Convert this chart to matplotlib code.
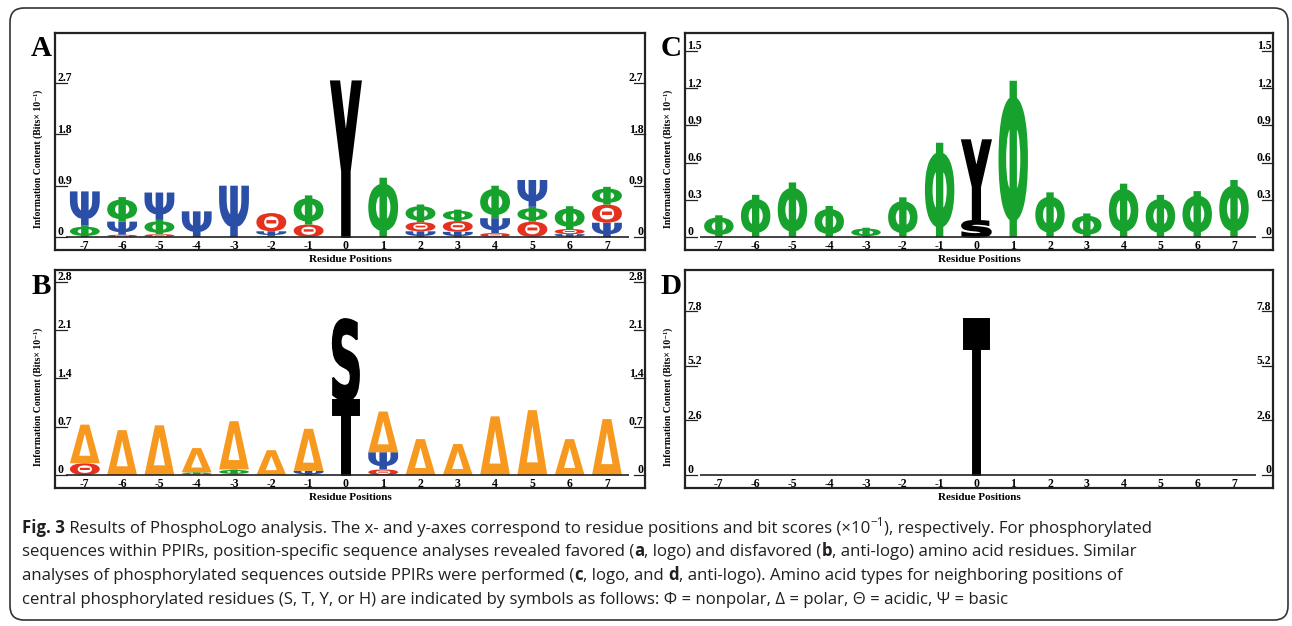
import matplotlib
matplotlib.use('Agg')
import matplotlib.pyplot as plt
from matplotlib.textpath import TextPath
from matplotlib.font_manager import FontProperties
from matplotlib.patches import PathPatch, FancyBboxPatch
from matplotlib.transforms import Affine2D, IdentityTransform

W, H = 1292, 626

positions = list(range(-7, 8))

# stacks are listed bottom -> top, one string of symbols per position
a_syms = ['ΦΨ', 'ΘΨΦ', 'ΘΦΨ', 'Ψ', 'Ψ', 'ΦΨΘ', 'ΘΦ', 'Y', 'Φ',
          'ΨΘΦ', 'ΨΘΦ', 'ΘΨΦ', 'ΘΦΨ', 'ΨΘΦ', 'ΨΘΦ']
a_vals = [[0.20, 0.60], [0.04, 0.23, 0.43], [0.05, 0.25, 0.48], [0.45], [0.90],
          [0.02, 0.08, 0.32], [0.22, 0.51], [2.73], [1.04],
          [0.10, 0.16, 0.31], [0.09, 0.19, 0.20], [0.07, 0.26, 0.57],
          [0.27, 0.26, 0.47], [0.05, 0.09, 0.40], [0.25, 0.32, 0.31]]

b_syms = ['ΘΔ', 'Δ', 'Δ', 'ΘΦΔ', 'ΘΦΔ', 'Δ', 'ΨΔ', 'TS', 'ΘΨΔ',
          'Δ', 'Δ', 'Δ', 'Δ', 'Δ', 'Δ']
b_vals = [[0.17, 0.56], [0.65], [0.72], [0.01, 0.03, 0.35], [0.01, 0.07, 0.70],
          [0.36], [0.06, 0.61], [1.08, 1.18], [0.08, 0.25, 0.59],
          [0.52], [0.45], [0.85], [0.94], [0.52], [0.81]]

c_syms = ['Φ'] * 7 + ['SY'] + ['Φ'] * 7
c_vals = [[0.175], [0.34], [0.44], [0.25], [0.075], [0.32], [0.76], [0.13, 0.65],
          [1.26], [0.36], [0.19], [0.43], [0.34], [0.37], [0.46]]

d_syms = [''] * 7 + ['T'] + [''] * 7
d_vals = [[]] * 7 + [[7.45]] + [[]] * 7

a_ticks = [0, 0.9, 1.8, 2.7]
b_ticks = [0, 0.7, 1.4, 2.1, 2.8]
c_ticks = [0, 0.3, 0.6, 0.9, 1.2, 1.5]
d_ticks = [0, 2.6, 5.2, 7.8]

colors = {'Φ': '#17a12d', 'Ψ': '#2b4fa6', 'Θ': '#e4321f', 'Δ': '#f7991f',
          'Y': 'black', 'S': 'black', 'T': 'black'}

glyph_fp = FontProperties(family='DejaVu Sans', weight='bold')
serif = ['Liberation Serif', 'DejaVu Serif']


def glyph(ax, ch, x, y0, h, w):
    tp = TextPath((0, 0), ch, size=1, prop=glyph_fp)
    bb = tp.get_extents()
    tr = Affine2D().translate(-bb.x0, -bb.y0).scale(w / bb.width, h / bb.height).translate(x - w / 2, y0)
    # the black central residues are drawn a bit heavier
    edge = 1.4 if ch in 'YST' else 0
    ax.add_patch(PathPatch(tr.transform_path(tp), fc=colors[ch], ec=colors[ch], lw=edge))


fig = plt.figure(figsize=(W / 100, H / 100), dpi=100)

# outer rounded border
fig.patches.append(FancyBboxPatch((10, 6), 1278, 612, boxstyle='round,pad=0,rounding_size=14',
                                  transform=IdentityTransform(), fill=False, ec='#333333', lw=1.2))

# name, frame (left, top, right, bottom) in px, baseline px, px per unit, xlim, ticks, letter width at 0
panels = [
    ('A', (55, 33, 645, 250), 237, 57.0, (-7.80, 8.02), a_syms, a_vals, a_ticks, 0.8),
    ('B', (55, 270, 645, 488), 475, 69.0, (-7.80, 8.02), b_syms, b_vals, b_ticks, 0.70),
    ('C', (685, 33, 1273, 250), 237, 124.0, (-7.92, 8.06), c_syms, c_vals, c_ticks, 0.78),
    ('D', (685, 270, 1273, 488), 475, 21.0, (-7.92, 8.06), d_syms, d_vals, d_ticks, 0.68),
]

for name, (l, t, r, b), base, ppu, xlim, syms, vals, ticks, w0 in panels:
    ax = fig.add_axes([l / W, 1 - b / H, (r - l) / W, (b - t) / H])
    ax.set_xlim(*xlim)
    ax.set_ylim(-(b - base) / ppu, (base - t) / ppu)
    ax.set_xticks([])
    ax.set_yticks([])
    for sp in ax.spines.values():
        sp.set_linewidth(1.6)
        sp.set_color('#222222')

    ax.plot([-7.5, 7.6], [0, 0], color='#222222', lw=1.2, solid_capstyle='butt')

    for p, s, v in zip(positions, syms, vals):
        y0 = 0
        for ch, h in zip(s, v):
            glyph(ax, ch, p, y0, h, w0 if p == 0 else 0.8)
            y0 += h
        ax.annotate(str(p), (p, 0), xytext=(0, -2.5), textcoords='offset points',
                    ha='center', va='top', fontsize=8.5, fontweight='bold', family=serif)

    yt = ax.get_yaxis_transform()
    for tv in ticks:
        lab = ('%g' % tv) if tv else '0'
        ax.plot([0, 0.02], [tv, tv], color='#222222', lw=0.9, transform=yt, clip_on=False)
        ax.plot([0.982, 1], [tv, tv], color='#222222', lw=0.9, transform=yt, clip_on=False)
        ax.annotate(lab, (0.004, tv), xycoords=yt, xytext=(0, 1.2), textcoords='offset points',
                    ha='left', va='baseline', fontsize=8.5, fontweight='bold', family=serif)
        ax.annotate(lab, (0.997, tv), xycoords=yt, xytext=(0, 1.2), textcoords='offset points',
                    ha='right', va='baseline', fontsize=8.5, fontweight='bold', family=serif)

    fig.text(((l + r) / 2) / W, 1 - (b + 9) / H, 'Residue Positions', ha='center', va='center',
             fontsize=8, fontweight='bold', family=serif)
    fig.text((l - 17) / W, 1 - (base - 78) / H, 'Information Content (Bits× 10⁻¹)', rotation=90,
             ha='center', va='center', fontsize=7, fontweight='bold', family=serif)
    fig.text((l - 14) / W, 1 - (t + 16) / H, name, ha='center', va='center',
             fontsize=21, fontweight='bold', family=serif)

# caption
cap_lines = [
    [('Fig. 3', 'bold'), (' Results of PhosphoLogo analysis. The x- and y-axes correspond to residue positions and bit scores (×10', 'normal'),
     ('−1', 'sup'), ('), respectively. For phosphorylated', 'normal')],
    [('sequences within PPIRs, position-specific sequence analyses revealed favored (', 'normal'), ('a', 'bold'),
     (', logo) and disfavored (', 'normal'), ('b', 'bold'), (', anti-logo) amino acid residues. Similar', 'normal')],
    [('analyses of phosphorylated sequences outside PPIRs were performed (', 'normal'), ('c', 'bold'),
     (', logo, and ', 'normal'), ('d', 'bold'), (', anti-logo). Amino acid types for neighboring positions of', 'normal')],
    [('central phosphorylated residues (S, T, Y, or H) are indicated by symbols as follows: Φ = nonpolar, Δ = polar, Θ = acidic, Ψ = basic', 'normal')],
]
cap_family = ['Open Sans', 'DejaVu Sans']
cap_color = '#231f20'
renderer = fig.canvas.get_renderer()


def run_width(s, size, weight):
    t1 = fig.text(0, 0, '|' + s + '|', fontsize=size, fontweight=weight, family=cap_family)
    t2 = fig.text(0, 0, '||', fontsize=size, fontweight=weight, family=cap_family)
    wd = t1.get_window_extent(renderer).width - t2.get_window_extent(renderer).width
    t1.remove()
    t2.remove()
    return wd


def line_width(runs, size):
    tot = 0
    for s, kind in runs:
        if kind == 'sup':
            tot += run_width(s, size * 0.7, 'normal')
        else:
            tot += run_width(s, size, kind)
    return tot


base_size = 10.0
cap_size = base_size * 1129 / line_width(cap_lines[0], base_size)

for i, runs in enumerate(cap_lines):
    x = 22
    y = H - (533 + i * 23.5)
    for s, kind in runs:
        if kind == 'sup':
            sz, wt, dy = cap_size * 0.7, 'normal', cap_size * 0.55
        else:
            sz, wt, dy = cap_size, kind, 0
        fig.text(x / W, (y + dy) / H, s, fontsize=sz, fontweight=wt, family=cap_family,
                 color=cap_color, ha='left', va='baseline')
        x += run_width(s, sz, wt)

fig.savefig('out.png', dpi=100)
